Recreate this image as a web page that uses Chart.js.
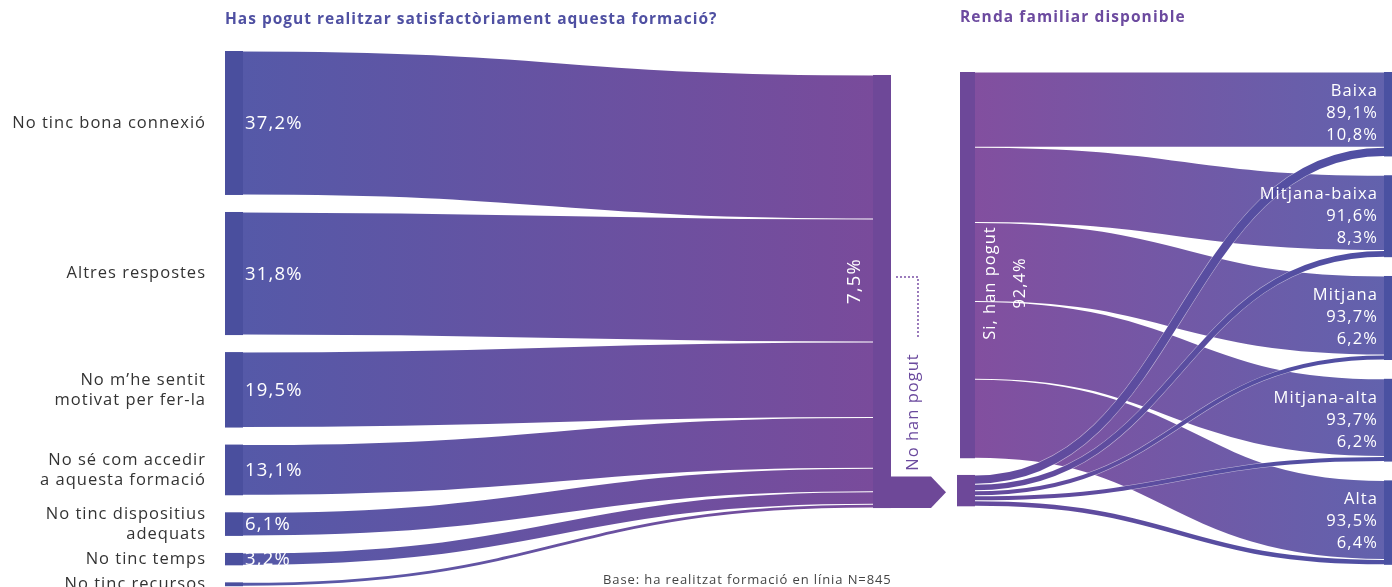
<!DOCTYPE html>
<html><head><meta charset="utf-8">
<script src="https://cdn.jsdelivr.net/npm/chart.js@4.4.0/dist/chart.umd.min.js"></script>
<style>html,body{margin:0;padding:0;background:#fff;overflow:hidden}</style>
</head><body>
<canvas id="c" width="1392" height="587"></canvas>
<script>
// ---------- DATA ----------
const reasonLabels = [["No tinc bona connexió"],["Altres respostes"],["No m’he sentit","motivat per fer-la"],["No sé com accedir","a aquesta formació"],["No tinc dispositius","adequats"],["No tinc temps"],["No tinc recursos"]];
const reasonValues = [37.2, 31.8, 19.5, 13.1, 6.1, 3.2, 1.0];
const reasonValueLabels = ["37,2%","31,8%","19,5%","13,1%","6,1%","3,2%",""];
const noHanPogutShare = "7,5%";
const outcomeLabels = ["Si, han pogut", "No han pogut"];
const outcomeValues = [92.4, 7.5];
const outcomeValueLabels = ["92,4%", "7,5%"];
const incomeLabels = ["Baixa","Mitjana-baixa","Mitjana","Mitjana-alta","Alta"];
const incomeSiFlows = [18.0, 18.0, 18.9, 18.6, 18.9];
const incomeNoFlows = [2.2, 1.6, 1.2, 1.2, 1.3];
const incomeSiPctLabels = ["89,1%","91,6%","93,7%","93,7%","93,5%"];
const incomeNoPctLabels = ["10,8%","8,3%","6,2%","6,2%","6,4%"];
const titleLeft = "Has pogut realitzar satisfactòriament aquesta formació?";
const titleRight = "Renda familiar disponible";
const footnote = "Base: ha realitzat formació en línia N=845";

// ---------- LAYOUT / STYLE ----------
const FONT = "'Open Sans', Lato, sans-serif";
const LAY = {
  leftX0: 225, leftX1: 243, midX0: 873, midX1: 891, arrowX1: 931, arrowTip: 946,
  siX0: 960, siX1: 975, noX0: 957, incX0: 1384, incX1: 1392,
  gapL: 4.4, midOffset: 6.2, gapR: 4.5, noOffset: 4.0,
  labelRight: 206, pctX: 245, incLabelX: 1378
};
const COL = {
  leftNode: '#4a4f9e', leftFlowA: '#5559a8', leftFlowB: '#794b9b', midNode: '#6e4898',
  siNode: '#6d4899', siFlowA: '#824f9f', siFlowB: '#6262ad', noFlowA: '#654a9d', noFlowB: '#4f50a3',
  incNode: '#4a51a1', edge: 'rgba(255,255,255,0.55)', text: '#333333',
  title1: '#4f50a2', title2: '#6c4a9f', purpleText: '#6b4a9e', dots: '#7a4fa5'
};

function link(ctx, x0, y0, x1, y1, w, style) {
  const xm = (x0 + x1) / 2;
  ctx.beginPath();
  ctx.moveTo(x0, y0);
  ctx.bezierCurveTo(xm, y0, xm, y1, x1, y1);
  ctx.lineCap = 'butt';
  ctx.strokeStyle = COL.edge; ctx.lineWidth = w; ctx.stroke();
  ctx.strokeStyle = style; ctx.lineWidth = Math.max(w - 1, 0.5); ctx.stroke();
}
function sp(ctx, px) { if ('letterSpacing' in ctx) ctx.letterSpacing = px + 'px'; }

const sankeyPlugin = {
  id: 'sankey',
  afterDatasetsDraw(chart) {
    const ctx = chart.ctx;
    const X = v => chart.scales.x.getPixelForValue(v);
    const YL = v => chart.scales.yL.getPixelForValue(v);
    const YR = v => chart.scales.yR.getPixelForValue(v);
    ctx.save();

    // ---- left part ----
    const lx0 = X(LAY.leftX0), lx1 = X(LAY.leftX1), mx0 = X(LAY.midX0), mx1 = X(LAY.midX1);
    const gradL = ctx.createLinearGradient(lx1, 0, mx0, 0);
    gradL.addColorStop(0, COL.leftFlowA); gradL.addColorStop(1, COL.leftFlowB);
    let sTop = 0, tTop = LAY.midOffset;
    const nodes = [];
    reasonValues.forEach((v, i) => {
      const a = YL(sTop), b = YL(sTop + v), c = YL(tTop), d = YL(tTop + v);
      nodes.push([a, b]);
      link(ctx, lx1, (a + b) / 2, mx0, (c + d) / 2, b - a, gradL);
      sTop += v + LAY.gapL; tTop += v;
    });
    nodes.forEach(([a, b]) => { ctx.fillStyle = COL.leftNode; ctx.fillRect(lx0, a, lx1 - lx0, b - a); });
    // middle node + arrow
    const midTop = YL(LAY.midOffset), midBot = YL(tTop);
    ctx.fillStyle = COL.midNode;
    ctx.fillRect(mx0, midTop, mx1 - mx0, midBot - midTop);
    const noTopV = outcomeValues[0] + LAY.noOffset;
    const aTop = YR(noTopV) + 1.5, aBot = midBot;
    ctx.beginPath();
    ctx.moveTo(mx0, aTop); ctx.lineTo(X(LAY.arrowX1), aTop);
    ctx.lineTo(X(LAY.arrowTip), (aTop + aBot) / 2); ctx.lineTo(X(LAY.arrowX1), aBot);
    ctx.lineTo(mx0, aBot); ctx.closePath(); ctx.fill();

    // left labels
    ctx.textBaseline = 'middle';
    nodes.forEach(([a, b], i) => {
      const lines = reasonLabels[i];
      const cy = (a + b) / 2;
      ctx.fillStyle = COL.text; ctx.font = `16.5px ${FONT}`; ctx.textAlign = 'right'; sp(ctx, 1);
      lines.forEach((t, k) => ctx.fillText(t, X(LAY.labelRight), cy + (k - (lines.length - 1) / 2) * 20));
      ctx.save();
      ctx.beginPath(); ctx.rect(lx1, a, mx0 - lx1, b - a); ctx.clip();
      ctx.fillStyle = '#ffffff'; ctx.font = `18.5px ${FONT}`; ctx.textAlign = 'left'; sp(ctx, 1.2);
      ctx.fillText(reasonValueLabels[i], X(LAY.pctX), cy + 1);
      ctx.restore();
    });
    // 7,5% label
    ctx.save();
    ctx.translate(X(855), 281);
    ctx.rotate(-Math.PI / 2);
    ctx.fillStyle = '#fff'; ctx.font = `18.5px ${FONT}`; ctx.textAlign = 'center'; sp(ctx, 1.2);
    ctx.fillText(noHanPogutShare, 0, 0);
    ctx.restore();
    // No han pogut label + dotted
    ctx.save();
    ctx.translate(X(913), 412); ctx.rotate(-Math.PI / 2);
    ctx.fillStyle = COL.purpleText; ctx.font = `16.5px ${FONT}`; ctx.textAlign = 'center'; sp(ctx, 1);
    ctx.fillText(outcomeLabels[1], 0, 0);
    ctx.restore();
    ctx.save();
    ctx.strokeStyle = COL.dots; ctx.lineWidth = 2; ctx.lineCap = 'round'; ctx.setLineDash([0, 4]);
    ctx.beginPath(); ctx.moveTo(X(897), 277); ctx.lineTo(X(918), 277); ctx.lineTo(X(918), 338); ctx.stroke();
    ctx.restore();

    // ---- right part ----
    const sx0 = X(LAY.siX0), sx1 = X(LAY.siX1), ix0 = X(LAY.incX0), ix1 = X(LAY.incX1);
    const gradS = ctx.createLinearGradient(sx1, 0, ix0, 0);
    gradS.addColorStop(0, COL.siFlowA); gradS.addColorStop(1, COL.siFlowB);
    const gradN = ctx.createLinearGradient(sx1, 0, ix0, 0);
    gradN.addColorStop(0, COL.noFlowA); gradN.addColorStop(1, COL.noFlowB);
    const incTops = [];
    let t = 0;
    incomeLabels.forEach((_, i) => { incTops.push(t); t += incomeSiFlows[i] + incomeNoFlows[i] + LAY.gapR; });
    let s = 0;
    incomeSiFlows.forEach((v, i) => {
      const a = YR(s), b = YR(s + v), c = YR(incTops[i]), d = YR(incTops[i] + v);
      link(ctx, sx1, (a + b) / 2, ix0, (c + d) / 2, b - a, gradS);
      s += v;
    });
    let n = noTopV;
    incomeNoFlows.forEach((v, i) => {
      const a = YR(n), b = YR(n + v), c = YR(incTops[i] + incomeSiFlows[i]), d = YR(incTops[i] + incomeSiFlows[i] + v);
      link(ctx, sx1, (a + b) / 2, ix0, (c + d) / 2, b - a, gradN);
      n += v;
    });
    ctx.fillStyle = COL.siNode;
    ctx.fillRect(sx0, YR(0), sx1 - sx0, YR(outcomeValues[0]) - YR(0));
    ctx.fillRect(X(LAY.noX0), YR(noTopV), sx1 - X(LAY.noX0), YR(noTopV + outcomeValues[1]) - YR(noTopV));
    ctx.fillStyle = COL.incNode;
    incTops.forEach((tp, i) => {
      ctx.fillRect(ix0, YR(tp), ix1 - ix0, YR(tp + incomeSiFlows[i] + incomeNoFlows[i]) - YR(tp));
    });
    // income labels
    ctx.fillStyle = '#fff'; ctx.font = `16.5px ${FONT}`; ctx.textAlign = 'right'; ctx.textBaseline = 'middle'; sp(ctx, 1.1);
    incTops.forEach((tp, i) => {
      const y0 = YR(tp) + 19;
      ctx.fillText(incomeLabels[i], X(LAY.incLabelX), y0);
      ctx.fillText(incomeSiPctLabels[i], X(LAY.incLabelX), y0 + 22);
      ctx.fillText(incomeNoPctLabels[i], X(LAY.incLabelX), y0 + 44);
    });
    // Si label
    ctx.save();
    ctx.translate(X(990), 283); ctx.rotate(-Math.PI / 2);
    ctx.textAlign = 'center'; ctx.fillStyle = '#fff'; ctx.font = `16.5px ${FONT}`; sp(ctx, 1);
    ctx.fillText(outcomeLabels[0], 0, 0);
    ctx.fillText(outcomeValueLabels[0], 0, 30);
    ctx.restore();

    // titles and footnote
    ctx.textAlign = 'left'; ctx.textBaseline = 'middle';
    ctx.font = `bold 15.5px ${FONT}`; ctx.fillStyle = COL.title1; sp(ctx, 1);
    ctx.fillText(titleLeft, X(225), 20);
    ctx.fillStyle = COL.title2; sp(ctx, 1.1);
    ctx.fillText(titleRight, X(960), 18);
    ctx.font = `13px ${FONT}`; ctx.fillStyle = '#444'; sp(ctx, 0.9);
    ctx.fillText(footnote, X(603), 580);
    ctx.restore();
  }
};

new Chart(document.getElementById('c'), {
  type: 'scatter',
  data: { datasets: [{ data: [], xAxisID: 'x', yAxisID: 'yL' }, { data: [], xAxisID: 'x', yAxisID: 'yR' }] },
  options: {
    responsive: false, animation: false, devicePixelRatio: 1,
    layout: { padding: 0 },
    plugins: { legend: { display: false }, tooltip: { enabled: false }, title: { display: false } },
    scales: {
      x: { type: 'linear', min: 0, max: 1392, display: false },
      yL: { type: 'linear', reverse: true, min: -51 / 3.87, max: (587 - 51) / 3.87, display: false },
      yR: { type: 'linear', reverse: true, min: -72 / 4.18, max: (587 - 72) / 4.18, display: false }
    }
  },
  plugins: [sankeyPlugin]
});
</script>
</body></html>
